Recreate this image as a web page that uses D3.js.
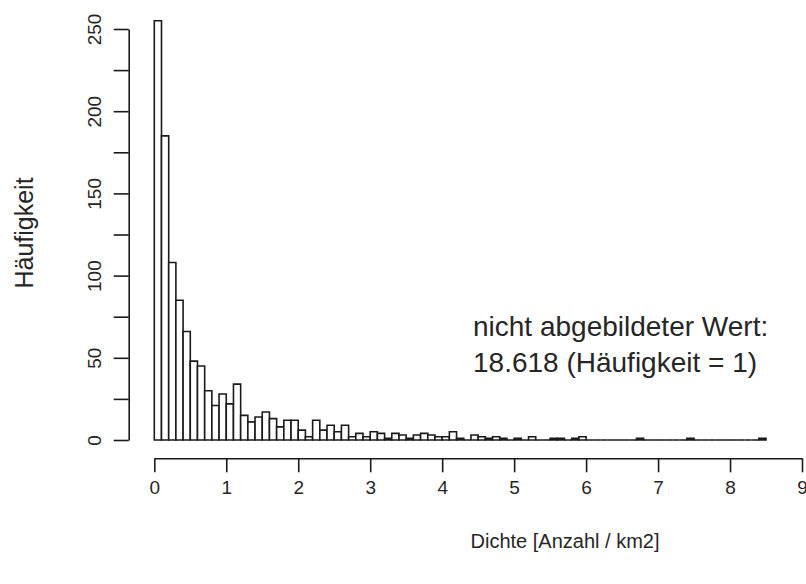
<!DOCTYPE html>
<html>
<head>
<meta charset="utf-8">
<script src="https://cdn.jsdelivr.net/npm/d3@7"></script>
<style>
  html, body { margin: 0; padding: 0; background: #fff; }
  svg { display: block; font-family: "Liberation Sans", Arial, sans-serif; }
</style>
</head>
<body>
<svg id="chart" width="806" height="584"></svg>
<script>
// Histogram of density values, bin width 0.1 (Anzahl / km2)
const binStarts = d3.range(0, 85).map(i => +(i * 0.1).toFixed(1));
const binWidth = 0.1;
const counts = [
  255, 185, 108, 85, 66, 48, 45, 30, 21, 28,   // 0.0 - 0.9
  22, 34, 15, 11, 14, 17, 13, 8, 12, 12,        // 1.0 - 1.9
  6, 2, 12, 6, 9, 5, 9, 2, 4, 2,                // 2.0 - 2.9
  5, 4, 1, 4, 3, 1, 3, 4, 3, 2,                 // 3.0 - 3.9
  2, 5, 1, 0, 3, 2, 1, 2, 1, 0,                 // 4.0 - 4.9
  1, 0, 2, 0, 0, 1, 1, 0, 1, 2,                 // 5.0 - 5.9
  0, 0, 0, 0, 0, 0, 0, 1, 0, 0,                 // 6.0 - 6.9
  0, 0, 0, 0, 1, 0, 0, 0, 0, 0,                 // 7.0 - 7.9
  0, 0, 0, 0, 1                                 // 8.0 - 8.4
];
const xTicks = [0, 1, 2, 3, 4, 5, 6, 7, 8, 9];
const yTicks = [0, 25, 50, 75, 100, 125, 150, 175, 200, 225, 250];
const yLabelled = [0, 50, 100, 150, 200, 250];
const xTitle = "Dichte [Anzahl / km2]";
const yTitle = "Häufigkeit";
const noteLines = ["nicht abgebildeter Wert:", "18.618 (Häufigkeit = 1)"];

const svg = d3.select("#chart");
const ink = "#1a1a1a";
const textInk = "#262626";

const x = d3.scaleLinear().domain([0, 9]).range([154.3, 802]);
const y = d3.scaleLinear().domain([0, 250]).range([440, 29]);

// bars drawn as closed paths so empty bins still show on the baseline
const bars = binStarts.map((b, i) => ({ x0: b, x1: b + binWidth, n: counts[i] }));
svg.append("g")
  .selectAll("path")
  .data(bars)
  .join("path")
  .attr("d", d => {
    const l = x(d.x0), r = x(d.x1), b = y(0), t = y(d.n);
    return `M${l},${b}V${t}H${r}V${b}Z`;
  })
  .attr("fill", "#fff")
  .attr("stroke", ink)
  .attr("stroke-width", 1.6);

// x axis
const gx = svg.append("g")
  .attr("transform", "translate(0,458.3)")
  .call(d3.axisBottom(x).tickValues(xTicks).tickFormat(d3.format("d"))
    .tickSizeInner(14).tickSizeOuter(0).tickPadding(8));
gx.select(".domain").attr("stroke", ink).attr("stroke-width", 1.6);
gx.selectAll(".tick line").attr("stroke", ink).attr("stroke-width", 1.6);
gx.selectAll(".tick text")
  .attr("font-size", 19).attr("fill", textInk)
  .attr("font-family", "Liberation Sans, Arial, sans-serif");

// y axis with rotated labels
const gy = svg.append("g")
  .attr("transform", "translate(128.7,0)")
  .call(d3.axisLeft(y).tickValues(yTicks)
    .tickFormat(d => yLabelled.includes(d) ? d : "")
    .tickSizeInner(15).tickSizeOuter(0));
gy.select(".domain").attr("stroke", ink).attr("stroke-width", 1.6);
gy.selectAll(".tick line").attr("stroke", ink).attr("stroke-width", 1.6);
gy.selectAll(".tick text")
  .attr("font-size", 19).attr("fill", textInk)
  .attr("font-family", "Liberation Sans, Arial, sans-serif")
  .attr("text-anchor", "middle")
  .attr("x", 0).attr("dy", null)
  .attr("y", -28)
  .attr("transform", "rotate(-90)");

// axis titles
svg.append("text")
  .attr("x", 565).attr("y", 548)
  .attr("text-anchor", "middle")
  .attr("font-size", 20).attr("fill", textInk)
  .text(xTitle);

svg.append("text")
  .attr("transform", "translate(33,233) rotate(-90)")
  .attr("text-anchor", "middle")
  .attr("font-size", 25).attr("fill", textInk)
  .text(yTitle);

// note about the value outside the drawn range
svg.append("g")
  .selectAll("text")
  .data(noteLines)
  .join("text")
  .attr("x", 473)
  .attr("y", (d, i) => 336 + i * 36)
  .attr("font-size", 28).attr("fill", textInk)
  .text(d => d);
</script>
</body>
</html>
